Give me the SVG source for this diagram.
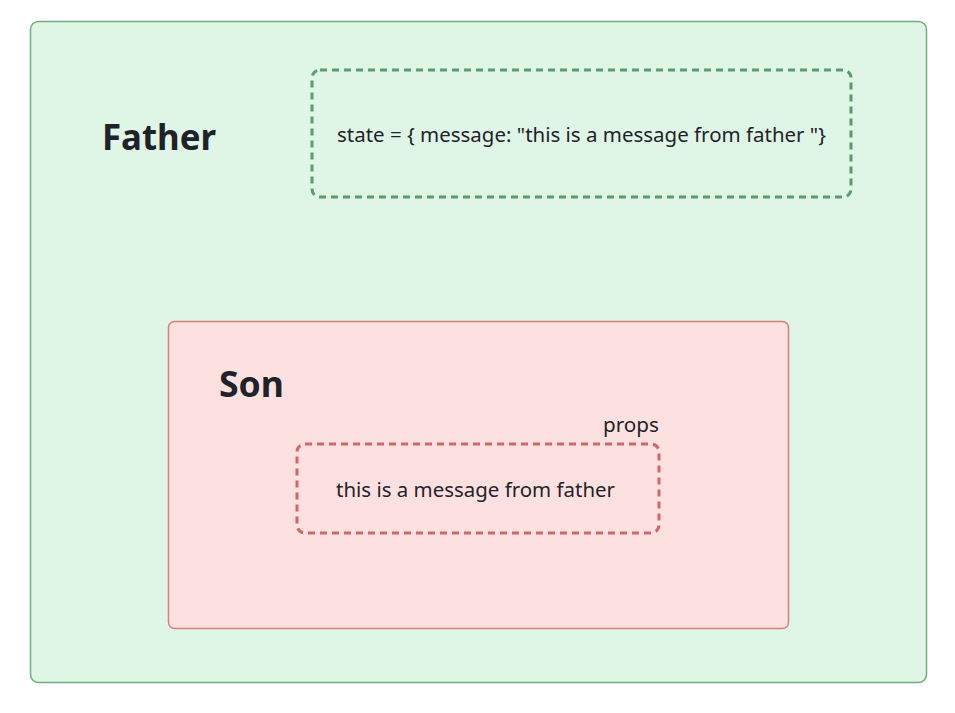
<svg xmlns="http://www.w3.org/2000/svg" width="955" height="713" viewBox="0 0 955 713">
<style>
.t{font-family:"Source Sans Pro","Noto Sans","Liberation Sans",sans-serif;fill:#1f2329}
.b{font-weight:bold;font-size:35px}
.n{font-size:20px}
.d{fill:none;stroke-width:3;stroke-dasharray:7 5}
</style>
<rect width="955" height="713" fill="#ffffff"/>
<g id="father">
<rect x="30.5" y="21.5" width="896" height="661" rx="8" fill="#dff5e6" stroke="#72ad7e" stroke-width="1.5"/>
<text class="t b" x="102" y="150" textLength="114" lengthAdjust="spacingAndGlyphs">Father</text>
</g>
<g id="state">
<rect class="d" x="312" y="70" width="539" height="127" rx="8" stroke="#5c9c6b"/>
<text class="t n" x="337" y="142" textLength="489" lengthAdjust="spacingAndGlyphs">state = { message: "this is a message from father "}</text>
</g>
<g id="son">
<rect x="168.5" y="321.5" width="620" height="307" rx="6" fill="#fde1e1" stroke="#d5817a" stroke-width="1.5"/>
<text class="t b" x="219" y="397" textLength="65" lengthAdjust="spacingAndGlyphs">Son</text>
</g>
<g id="props">
<text class="t n" x="659" y="432" text-anchor="end" textLength="56" lengthAdjust="spacingAndGlyphs">props</text>
<rect class="d" x="297" y="444" width="362" height="89" rx="8" stroke="#d0686a"/>
<text class="t n" x="336" y="497" textLength="279" lengthAdjust="spacingAndGlyphs">this is a message from father</text>
</g>
<g id="connectors"/>
</svg>
